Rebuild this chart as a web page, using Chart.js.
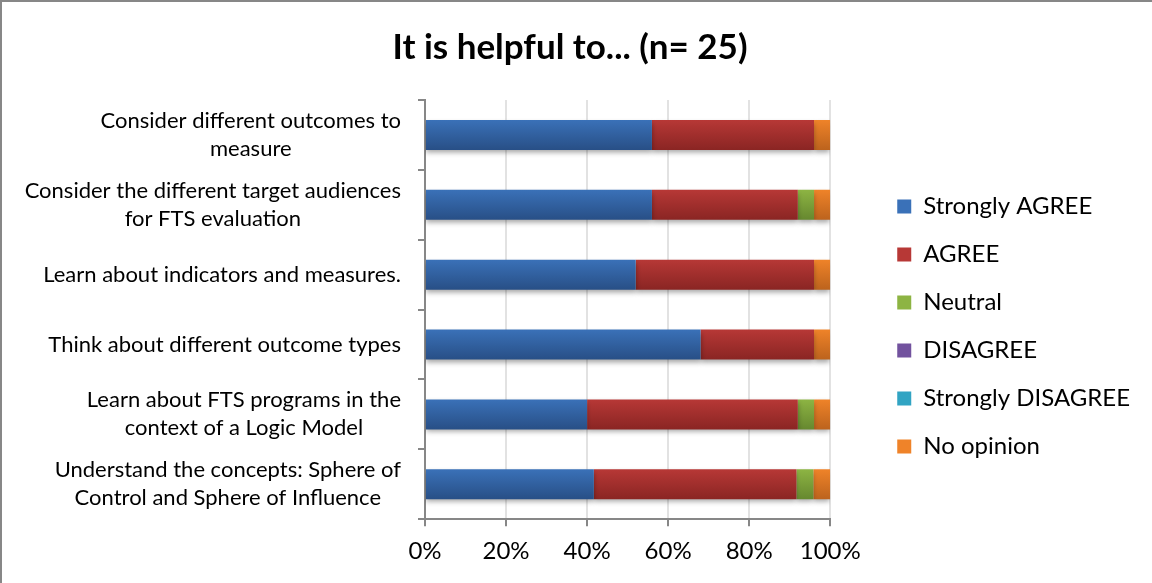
<!DOCTYPE html>
<html>
<head>
<meta charset="utf-8">
<script src="https://cdn.jsdelivr.net/npm/chart.js@4"></script>
<style>
  body { margin: 0; background: #fff; }
  #wrap { position: relative; width: 1152px; height: 583px; }
  #frame { position: absolute; left: 0; top: 0; width: 1152px; height: 583px; box-sizing: border-box;
           border-left: 2px solid #878787; border-top: 2px solid #878787; pointer-events: none; }
</style>
</head>
<body>
<div id="wrap">
  <canvas id="myChart" width="1152" height="583"></canvas>
  <div id="frame"></div>
</div>
<script>
// categories, top to bottom
var categories = [
  ["Consider different outcomes to", "measure"],
  ["Consider the different target audiences", "for FTS evaluation"],
  ["Learn about indicators and measures."],
  ["Think about different outcome types"],
  ["Learn about FTS programs in the", "context of a Logic Model"],
  ["Understand the concepts: Sphere of", "Control and Sphere of Influence"],
];

// number of answers per row
var stronglyAgree = [14, 14, 13, 17, 10, 10];
var agree = [10, 9, 11, 7, 13, 12];
var neutral = [0, 1, 0, 0, 1, 1];
var disagree = [0, 0, 0, 0, 0, 0];
var stronglyDisagree = [0, 0, 0, 0, 0, 0];
var noOpinion = [1, 1, 1, 1, 1, 1];

var seriesNames = ["Strongly AGREE", "AGREE", "Neutral", "DISAGREE", "Strongly DISAGREE", "No opinion"];
var xTicks = [0, 20, 40, 60, 80, 100];

var allSeries = [stronglyAgree, agree, neutral, disagree, stronglyDisagree, noOpinion];
var colors = [
  ["#3a71b8", "#284f86"],
  ["#b73836", "#8a2523"],
  ["#8db443", "#66882f"],
  ["#72529e", "#563c7a"],
  ["#31a4c3", "#1f7a93"],
  ["#ef8329", "#bc631d"],
];

var fontFamily = "Lato, 'Open Sans', sans-serif";

// 100% stacked: turn counts into percentages of each row
var totals = categories.map(function (c, i) {
  var s = 0;
  allSeries.forEach(function (arr) { s += arr[i]; });
  return s;
});

function barFill(pair) {
  return function (ctx) {
    var chart = ctx.chart;
    var y = chart.scales.y;
    if (!y || ctx.dataIndex === undefined || !chart.chartArea) return pair[0];
    var c = y.getPixelForValue(ctx.dataIndex);
    var band = Math.abs(y.getPixelForValue(1) - y.getPixelForValue(0));
    var half = band * 0.43 / 2;
    var g = chart.ctx.createLinearGradient(0, c - half, 0, c + half);
    g.addColorStop(0, pair[0]);
    g.addColorStop(1, pair[1]);
    return g;
  };
}

var datasets = allSeries.map(function (arr, k) {
  return {
    label: seriesNames[k],
    data: arr.map(function (v, i) { return v / totals[i] * 100; }),
    backgroundColor: barFill(colors[k]),
    borderWidth: 0,
    categoryPercentage: 1,
    barPercentage: 0.43,
  };
});

// bar shadow
var shadowPlugin = {
  id: "shadow",
  beforeDatasetsDraw: function (chart) {
    var ctx = chart.ctx;
    ctx.save();
    ctx.shadowColor = "rgba(0,0,0,0.35)";
    ctx.shadowBlur = 5;
    ctx.shadowOffsetY = 3;
  },
  afterDatasetsDraw: function (chart) {
    chart.ctx.restore();
  },
};

// push the legend down a bit
var legendShift = {
  id: "legendShift",
  afterLayout: function (chart) {
    chart.legend.top += 38;
    chart.legend.bottom += 38;
  },
};

// category labels: block right aligned, lines centred inside it
var catLabels = {
  id: "catLabels",
  afterDraw: function (chart) {
    var ctx = chart.ctx;
    var y = chart.scales.y;
    ctx.save();
    ctx.font = "22px " + fontFamily;
    ctx.fillStyle = "#000";
    ctx.textAlign = "center";
    ctx.textBaseline = "middle";
    chart.data.labels.forEach(function (lines, i) {
      var cy = y.getPixelForTick(i);
      var w = 0;
      lines.forEach(function (l) { w = Math.max(w, ctx.measureText(l).width); });
      var cx = y.right - 24 - w / 2;
      lines.forEach(function (l, j) {
        ctx.fillText(l, cx, cy + (j - (lines.length - 1) / 2) * 28);
      });
    });
    ctx.restore();
  },
};

new Chart("myChart", {
  type: "bar",
  data: {
    labels: categories,
    datasets: datasets,
  },
  options: {
    responsive: false,
    animation: false,
    indexAxis: "y",
    layout: {
      padding: { left: 0, right: 12, bottom: 6 },
    },
    plugins: {
      title: {
        display: true,
        text: "It is helpful to... (n= 25)",
        color: "#000",
        font: { family: fontFamily, size: 35, weight: "bold" },
        padding: { top: 27, bottom: 31 },
      },
      legend: {
        position: "right",
        maxWidth: 320,
        labels: {
          color: "#000",
          font: { family: fontFamily, size: 24 },
          boxWidth: 14,
          boxHeight: 14,
          padding: 24,
          generateLabels: function (chart) {
            return chart.data.datasets.map(function (ds, k) {
              return {
                text: ds.label,
                fillStyle: colors[k][0],
                strokeStyle: colors[k][0],
                lineWidth: 0,
                hidden: false,
                datasetIndex: k,
              };
            });
          },
        },
      },
      tooltip: { enabled: false },
    },
    scales: {
      x: {
        stacked: true,
        min: 0,
        max: 100,
        afterBuildTicks: function (scale) {
          scale.ticks = xTicks.map(function (v) { return { value: v }; });
        },
        border: { color: "#878787", width: 2 },
        grid: { color: "#e2e2e2", lineWidth: 2, tickColor: "#878787", tickLength: 7 },
        ticks: {
          color: "#000",
          font: { family: fontFamily, size: 24 },
          padding: 11,
          callback: function (v) { return v + "%"; },
        },
      },
      y: {
        stacked: true,
        afterFit: function (scale) { scale.width = 425; },
        border: { color: "#878787", width: 2 },
        grid: { display: true, drawOnChartArea: false, offset: true, color: "#878787", lineWidth: 2, tickLength: 7 },
        ticks: { display: false },
      },
      y2: {
        type: "linear",
        axis: "y",
        position: "right",
        display: true,
        afterFit: function (scale) { scale.width = 43; },
        border: { display: false },
        grid: { display: false },
        ticks: { display: false },
      },
    },
  },
  plugins: [shadowPlugin, legendShift, catLabels],
});
</script>
</body>
</html>
